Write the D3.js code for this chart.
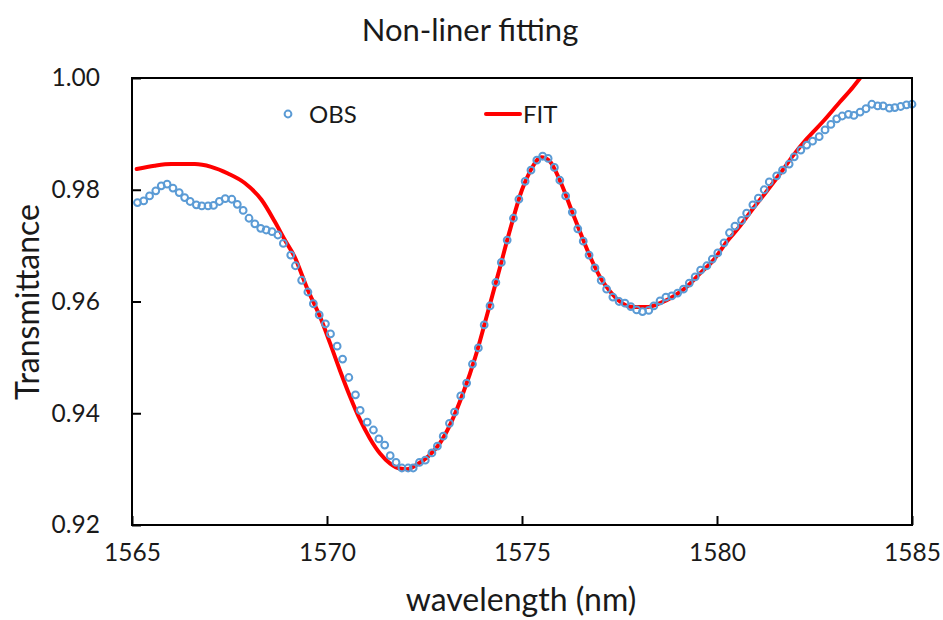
<!DOCTYPE html>
<html>
<head>
<meta charset="utf-8">
<script src="https://cdn.jsdelivr.net/npm/d3@7/dist/d3.min.js"></script>
<style>
  html, body { margin: 0; padding: 0; background: #fff; }
  svg text { font-family: Lato, "Open Sans", sans-serif; fill: #1a1a1a; }
</style>
</head>
<body>
<svg id="chart" width="943" height="620"></svg>
<script>
// ---- data ----
const chartTitle = "Non-liner fitting";
const xLabel = "wavelength (nm)";
const yLabel = "Transmittance";
const seriesNames = ["OBS", "FIT"];
const xTicks = [1565, 1570, 1575, 1580, 1585];
const yTicks = [0.92, 0.94, 0.96, 0.98, 1.00];

const obsWavelength = [
 1565.14,1565.30,1565.45,1565.61,1565.75,1565.90,1566.05,1566.21,1566.35,1566.49,
 1566.65,1566.79,1566.95,1567.09,1567.24,1567.39,1567.56,1567.70,1567.85,1568.00,
 1568.15,1568.30,1568.44,1568.59,1568.74,1568.88,1569.07,1569.19,1569.35,1569.51,
 1569.65,1569.80,1569.96,1570.09,1570.26,1570.40,1570.56,1570.73,1570.85,1571.03,
 1571.19,1571.33,1571.48,1571.62,1571.77,1571.92,1572.08,1572.21,1572.37,1572.52,
 1572.69,1572.83,1572.98,1573.14,1573.27,1573.43,1573.58,1573.73,1573.88,1574.03,
 1574.18,1574.33,1574.47,1574.62,1574.78,1574.92,1575.08,1575.23,1575.38,1575.53,
 1575.67,1575.83,1575.97,1576.12,1576.29,1576.43,1576.57,1576.72,1576.87,1577.03,
 1577.17,1577.33,1577.49,1577.64,1577.79,1577.94,1578.09,1578.25,1578.38,1578.54,
 1578.69,1578.84,1578.99,1579.14,1579.29,1579.44,1579.58,1579.74,1579.88,1580.02,
 1580.18,1580.32,1580.46,1580.63,1580.76,1580.92,1581.06,1581.21,1581.34,1581.53,
 1581.68,1581.85,1581.98,1582.15,1582.30,1582.45,1582.62,1582.77,1582.92,1583.07,
 1583.21,1583.37,1583.51,1583.67,1583.82,1583.97,1584.12,1584.26,1584.42,1584.56,
 1584.71,1584.86,1585.00
];
const obsTransmittance = [
 0.9777,0.9780,0.9789,0.9798,0.9807,0.9810,0.9803,0.9795,0.9786,0.9779,
 0.9773,0.9771,0.9771,0.9772,0.9779,0.9784,0.9783,0.9774,0.9763,0.9749,
 0.9739,0.9731,0.9728,0.9725,0.9719,0.9704,0.9683,0.9664,0.9638,0.9617,
 0.9596,0.9576,0.9560,0.9542,0.9520,0.9497,0.9464,0.9433,0.9405,0.9384,
 0.9370,0.9354,0.9343,0.9324,0.9312,0.9302,0.9302,0.9302,0.9312,0.9316,
 0.9329,0.9341,0.9359,0.9382,0.9402,0.9431,0.9454,0.9488,0.9517,0.9558,
 0.9592,0.9634,0.9670,0.9710,0.9749,0.9783,0.9815,0.9835,0.9853,0.9860,
 0.9856,0.9840,0.9817,0.9789,0.9760,0.9730,0.9708,0.9683,0.9660,0.9638,
 0.9622,0.9608,0.9600,0.9597,0.9591,0.9585,0.9582,0.9584,0.9592,0.9601,
 0.9608,0.9610,0.9615,0.9622,0.9633,0.9644,0.9656,0.9664,0.9676,0.9687,
 0.9705,0.9723,0.9735,0.9745,0.9758,0.9773,0.9785,0.9800,0.9814,0.9825,
 0.9835,0.9846,0.9859,0.9871,0.9880,0.9887,0.9895,0.9907,0.9917,0.9927,
 0.9932,0.9935,0.9933,0.9939,0.9945,0.9953,0.9950,0.9950,0.9946,0.9947,
 0.9949,0.9952,0.9953
];

const fitWavelength = [
 1565.12,1565.58,1566.01,1566.61,1567.03,1567.46,1567.89,1568.32,1568.66,1568.92,
 1569.17,1569.50,1569.82,1570.08,1570.33,1570.59,1570.85,1571.10,1571.36,1571.62,
 1571.87,1572.05,1572.30,1572.60,1572.90,1573.20,1573.50,1573.80,1574.10,1574.40,
 1574.70,1575.00,1575.20,1575.50,1575.70,1576.00,1576.30,1576.60,1576.80,1577.00,
 1577.26,1577.51,1577.85,1578.20,1578.54,1578.88,1579.22,1579.56,1579.91,1580.25,
 1580.59,1580.93,1581.27,1581.62,1581.96,1582.30,1582.73,1583.15,1583.49,1583.67
];
const fitTransmittance = [
 0.9837,0.9843,0.9846,0.9846,0.9841,0.9829,0.9812,0.9782,0.9743,0.9710,
 0.9680,0.9622,0.9573,0.9525,0.9477,0.9430,0.9388,0.9355,0.9328,0.9310,
 0.9301,0.9300,0.9308,0.9323,0.9347,0.9386,0.9438,0.9500,0.9575,0.9652,
 0.9730,0.9800,0.9832,0.9858,0.9852,0.9812,0.9758,0.9705,0.9672,0.9644,
 0.9618,0.9600,0.9590,0.9590,0.9597,0.9609,0.9626,0.9650,0.9674,0.9707,
 0.9735,0.9767,0.9797,0.9829,0.9862,0.9891,0.9923,0.9957,0.9984,1.0000
];

// ---- layout ----
const svg = d3.select("#chart");
const plot = { left: 132, right: 912, top: 78, bottom: 525 };

const x = d3.scaleLinear().domain([1565, 1585]).range([plot.left, plot.right]);
const y = d3.scaleLinear().domain([0.92, 1.00]).range([plot.bottom, plot.top]);

const obsData = obsWavelength.map((w, i) => ({ w, t: obsTransmittance[i] }));
const fitData = fitWavelength.map((w, i) => ({ w, t: fitTransmittance[i] }));

// clip
svg.append("clipPath").attr("id", "clip")
  .append("rect").attr("x", plot.left).attr("y", plot.top)
  .attr("width", plot.right - plot.left).attr("height", plot.bottom - plot.top);

// fit line
const line = d3.line().x(d => x(d.w)).y(d => y(d.t)).curve(d3.curveMonotoneX);
svg.append("path").datum(fitData)
  .attr("clip-path", "url(#clip)")
  .attr("d", line)
  .attr("fill", "none").attr("stroke", "#ff0000").attr("stroke-width", 4)
  .attr("stroke-linejoin", "round").attr("stroke-linecap", "round");

// observed points
svg.append("g").selectAll("circle").data(obsData).join("circle")
  .attr("cx", d => x(d.w)).attr("cy", d => y(d.t)).attr("r", 3.4)
  .attr("fill", "none").attr("stroke", "#5b9bd5").attr("stroke-width", 2);

// axes (ticks inward)
const xAxis = d3.axisBottom(x).tickValues(xTicks).tickSizeInner(-9).tickSizeOuter(0).tickPadding(19)
  .tickFormat(d3.format("d"));
const gx = svg.append("g").attr("transform", `translate(0,${plot.bottom})`).call(xAxis);
const yAxis = d3.axisLeft(y).tickValues(yTicks).tickSizeInner(-9).tickSizeOuter(0).tickPadding(32)
  .tickFormat(d3.format(".2f"));
const gy = svg.append("g").attr("transform", `translate(${plot.left},0)`).call(yAxis);
[gx, gy].forEach(g => {
  g.select(".domain").remove();
  g.selectAll(".tick line").attr("stroke", "#000").attr("stroke-width", 2);
  g.selectAll(".tick text").attr("font-size", 24.5).attr("fill", "#1a1a1a")
    .style("font-family", "Lato, 'Open Sans', sans-serif");
});

// frame
svg.append("rect").attr("x", plot.left).attr("y", plot.top)
  .attr("width", plot.right - plot.left).attr("height", plot.bottom - plot.top)
  .attr("fill", "none").attr("stroke", "#000").attr("stroke-width", 2);

// titles
svg.append("text").attr("x", 470).attr("y", 41).attr("text-anchor", "middle")
  .attr("font-size", 31).text(chartTitle);
svg.append("text").attr("x", 521).attr("y", 611).attr("text-anchor", "middle")
  .attr("font-size", 32).text(xLabel);
svg.append("text").attr("transform", "translate(39,302) rotate(-90)").attr("text-anchor", "middle")
  .attr("font-size", 32).text(yLabel);

// legend
const lg = svg.append("g");
lg.append("circle").attr("cx", 288).attr("cy", 114).attr("r", 3.4)
  .attr("fill", "none").attr("stroke", "#5b9bd5").attr("stroke-width", 2);
lg.append("text").attr("x", 309).attr("y", 123).attr("font-size", 24).text(seriesNames[0]);
lg.append("line").attr("x1", 486).attr("x2", 520).attr("y1", 114).attr("y2", 114)
  .attr("stroke", "#ff0000").attr("stroke-width", 4).attr("stroke-linecap", "round");
lg.append("text").attr("x", 523).attr("y", 123).attr("font-size", 24).text(seriesNames[1]);
</script>
</body>
</html>
